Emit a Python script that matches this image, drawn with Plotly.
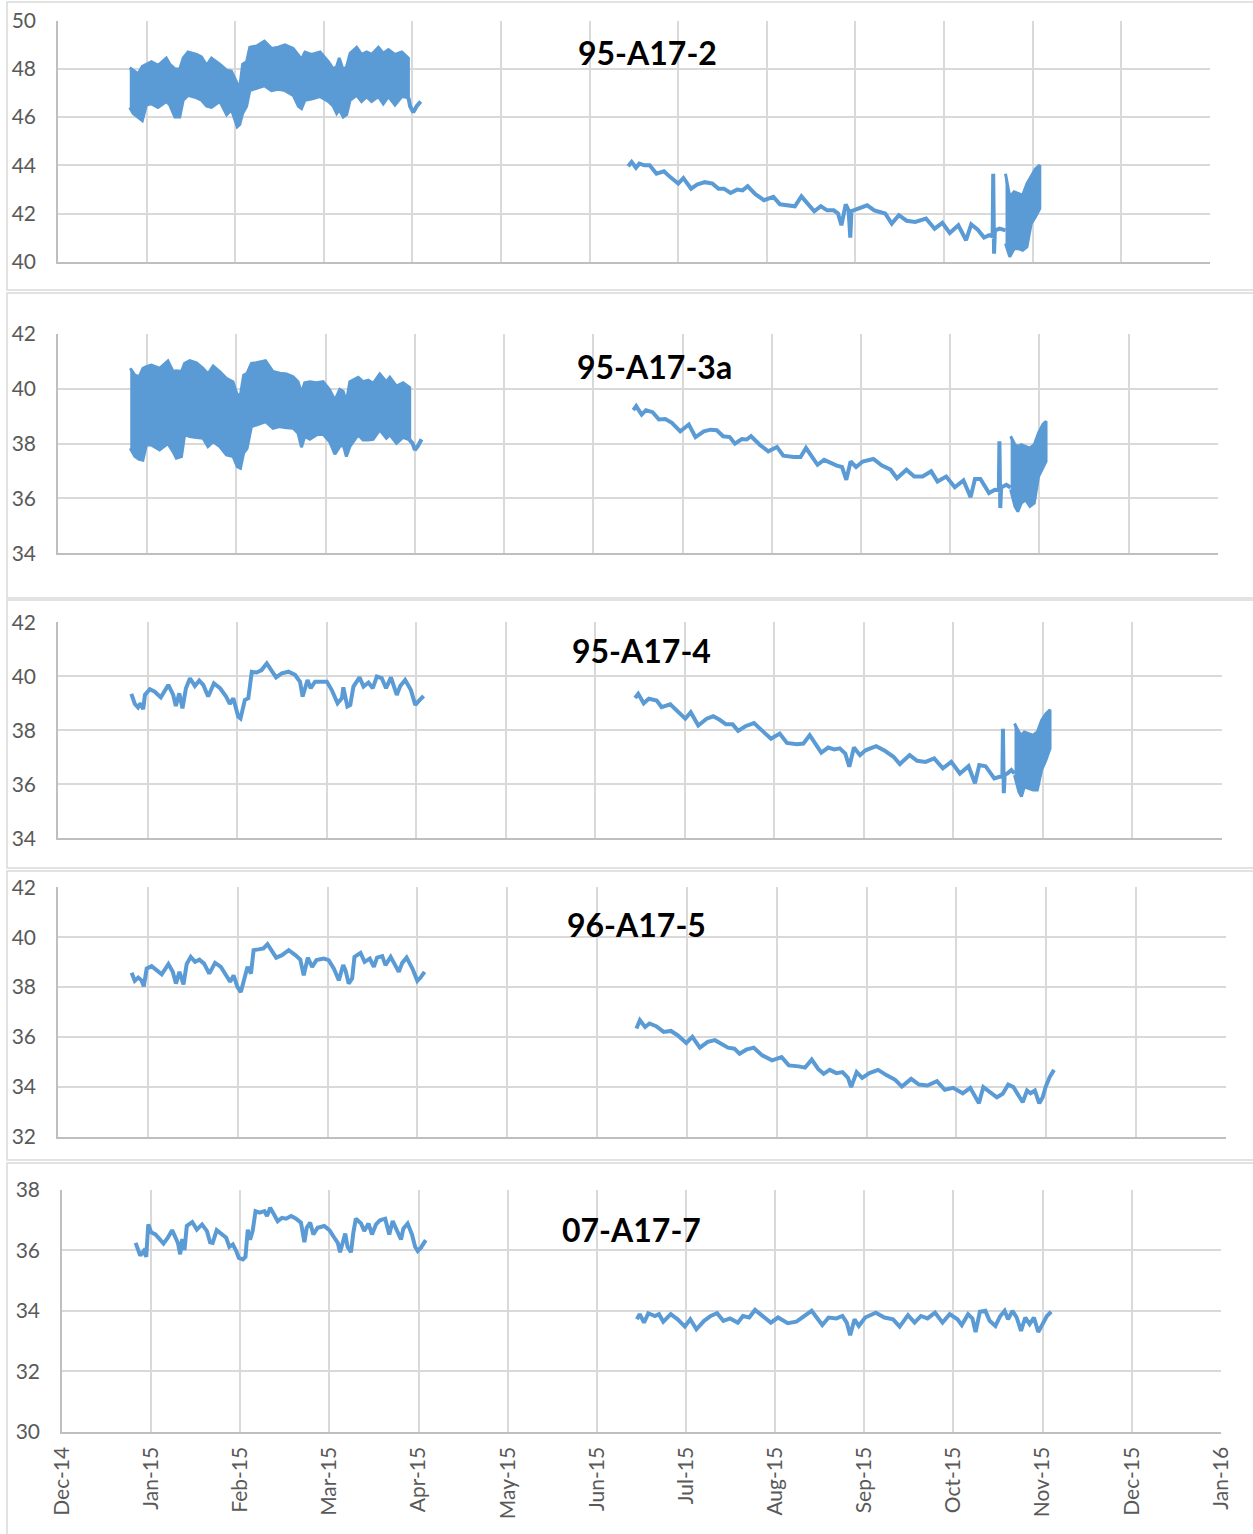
import pandas as pd
import plotly.graph_objects as go

BLUE = "#5B9BD5"
BASE = pd.Timestamp("2014-12-01")

# ---------------- tick labels (axis ticks every 31 days from 1-Dec-2014) ----------------
tick_days = [31 * k for k in range(14)]
tick_labels = ["Dec-14", "Jan-15", "Feb-15", "Mar-15", "Apr-15", "May-15", "Jun-15",
               "Jul-15", "Aug-15", "Sep-15", "Oct-15", "Nov-15", "Dec-15", "Jan-16"]

titles = ["95-A17-2", "95-A17-3a", "95-A17-4", "96-A17-5", "07-A17-7"]
y_ranges = [(40, 50), (34, 42), (34, 42), (32, 42), (30, 38)]

# ---------------- data (days since 1-Dec-2014) ----------------
# Panel 1: 95-A17-2
p1_win_days = [25.1, 26.3, 28.0, 29.5, 30.9, 32.7, 35.0, 37.9, 39.1, 40.9, 42.6, 43.8, 45.5, 48.5, 50.2,
               52.0, 53.7, 56.6, 59.0, 60.7, 62.7, 63.6, 64.6, 66.0, 67.1, 69.5, 72.2, 74.7, 77.1, 79.4,
               82.3, 84.1, 85.2, 86.4, 88.7, 91.7, 94.6, 96.3, 97.5, 98.4, 99.8, 101.0, 102.2, 104.5,
               106.2, 108.0, 109.7, 112.1, 113.8, 115.6, 117.9, 120.3, 122.6]
p1_win_hi = [48.05, 47.95, 47.8, 48.1, 48.2, 48.3, 48.15, 48.45, 48.2, 48.0, 48.0, 48.45, 48.7, 48.6, 48.5,
             48.15, 48.45, 48.2, 47.95, 47.9, 47.4, 47.25, 48.2, 48.3, 48.9, 48.95, 49.15, 48.85, 48.9, 49.0,
             48.85, 48.6, 48.4, 48.7, 48.6, 48.7, 48.3, 48.0, 48.1, 48.45, 47.95, 48.1, 48.65, 48.9,
             48.6, 48.7, 48.6, 48.9, 48.65, 48.8, 48.6, 48.7, 48.45]
p1_win_lo = [46.4, 46.15, 46.0, 45.85, 46.5, 46.55, 46.4, 46.65, 46.5, 46.0, 46.0, 46.7, 46.9, 46.8, 46.7,
             46.45, 46.4, 46.65, 46.1, 46.3, 45.6, 45.7, 46.15, 46.45, 47.1, 47.2, 47.3, 47.1, 47.15, 47.1,
             46.9, 46.45, 46.35, 46.7, 46.75, 46.85, 46.65, 46.45, 46.15, 46.3, 46.0, 46.1, 46.7, 46.9,
             46.65, 46.85, 46.65, 46.85, 46.55, 46.85, 46.5, 46.85, 46.8]
p1_tail_days = [122.6, 123.2, 124.3, 125.5, 126.9]
p1_tail_vals = [46.8, 46.45, 46.2, 46.45, 46.65]
p1_sum_days = [199.5, 200.7, 202.2, 203.4, 205.2, 207.0, 209.4, 212.0, 214.3, 217.0, 218.8, 221.5, 223.6,
               226.3, 229.0, 231.1, 233.0, 235.3, 237.6, 239.5, 241.3, 244.0, 247.0, 250.3, 252.6, 255.6,
               257.8, 260.1, 262.4, 264.6, 266.9, 269.1, 271.4, 272.9, 274.1, 275.6, 276.6, 277.2, 277.6,
               278.4, 280.4, 283.1, 285.6, 289.4, 291.7, 294.2, 296.9, 299.9, 303.7, 306.7, 309.4, 312.0,
               315.0, 317.7, 319.5, 321.8, 324.0, 325.8, 327.0, 327.2, 327.5, 327.8, 329.5, 331.5]
p1_sum_vals = [43.96, 44.14, 43.9, 44.07, 44.0, 44.0, 43.65, 43.75, 43.5, 43.24, 43.47, 43.03, 43.2,
               43.3, 43.24, 43.03, 43.03, 42.85, 42.99, 42.96, 43.13, 42.8, 42.55, 42.69, 42.38, 42.34,
               42.3, 42.71, 42.41, 42.09, 42.3, 42.13, 42.13, 42.0, 41.51, 42.38, 42.13, 41.0, 42.1,
               42.13, 42.2, 42.34, 42.13, 42.0, 41.58, 41.93, 41.7, 41.65, 41.79, 41.37, 41.61, 41.19,
               41.51, 40.89, 41.55, 41.33, 41.0, 41.1, 41.05, 43.65, 40.33, 41.3, 41.37, 41.3]
p1_end_days = [331.5, 333.0, 334.5, 336.0, 337.5, 339.0, 340.5, 342.0, 343.5]
p1_end_hi = [43.65, 42.69, 42.9, 42.82, 42.76, 43.24, 43.58, 43.86, 44.0]
p1_end_lo = [40.75, 40.2, 40.54, 40.54, 40.47, 40.61, 41.58, 41.86, 42.2]

# Panel 2: 95-A17-3a
p2_win_days = [25.1, 26.7, 28.2, 29.5, 30.7, 32.4, 35.3, 38.2, 40.0, 41.1, 42.9, 44.0, 45.8, 48.1, 50.4,
               52.1, 53.9, 56.2, 58.5, 60.8, 62.3, 63.4, 64.5, 65.7, 67.2, 68.9, 72.1, 74.7, 77.1, 79.4,
               81.7, 83.4, 84.6, 85.7, 87.5, 89.8, 92.1, 94.4, 96.2, 97.9, 99.1, 100.2, 101.4, 104.3,
               106.0, 107.8, 109.5, 111.8, 114.1, 115.3, 117.6, 119.9, 122.2]
p2_win_hi = [40.75, 40.5, 40.44, 40.75, 40.81, 40.87, 40.75, 41.02, 40.63, 40.66, 40.63, 40.93, 41.03, 40.95,
             40.75, 40.54, 40.83, 40.63, 40.38, 40.26, 39.78, 39.78, 40.5, 40.57, 40.93, 40.95, 41.03, 40.63,
             40.57, 40.54, 40.44, 40.26, 39.86, 40.22, 40.26, 40.22, 40.26, 39.96, 39.59, 39.98, 39.9,
             39.53, 40.26, 40.42, 40.26, 40.32, 40.2, 40.54, 40.26, 40.42, 40.1, 40.22, 40.05]
p2_win_lo = [37.83, 37.53, 37.43, 37.4, 37.95, 37.95, 37.77, 38.0, 37.7, 37.47, 37.53, 38.32, 38.26, 38.22,
             38.2, 37.89, 38.07, 37.89, 37.59, 37.53, 37.16, 37.1, 37.65, 37.83, 38.62, 38.68, 38.8, 38.56,
             38.62, 38.58, 38.56, 38.38, 37.87, 38.26, 38.16, 38.32, 38.34, 38.07, 37.62, 37.89, 37.95,
             37.53, 37.89, 38.32, 38.13, 38.13, 38.16, 38.5, 38.2, 38.32, 38.01, 38.23, 38.13]
p2_tail_days = [122.2, 123.2, 124.0, 125.1, 126.3]
p2_tail_vals = [38.13, 38.01, 37.77, 37.92, 38.16]
p2_sum_days = [199.9, 200.9, 202.8, 204.3, 206.6, 208.8, 211.0, 213.3, 216.2, 219.2, 221.5, 224.4, 226.7,
               228.9, 231.1, 233.4, 235.2, 237.6, 239.3, 240.8, 243.8, 246.8, 249.8, 252.0, 255.7, 258.0,
               259.9, 262.4, 263.9, 266.2, 268.4, 270.6, 272.4, 273.9, 275.4, 277.3, 279.6, 283.3, 286.3,
               289.3, 291.5, 294.8, 297.5, 300.4, 303.4, 305.6, 308.6, 311.6, 314.6, 317.1, 318.6, 320.5,
               323.5, 325.5, 326.9, 327.1, 327.4, 327.7, 329.5, 331.0]
p2_sum_vals = [39.22, 39.37, 39.06, 39.22, 39.15, 38.88, 38.9, 38.76, 38.45, 38.7, 38.24, 38.45, 38.51,
               38.49, 38.27, 38.24, 38.0, 38.17, 38.15, 38.27, 37.96, 37.72, 37.88, 37.56, 37.51, 37.51,
               37.84, 37.48, 37.23, 37.41, 37.29, 37.2, 37.15, 36.68, 37.35, 37.15, 37.35, 37.44, 37.2,
               37.05, 36.74, 37.05, 36.8, 36.8, 36.99, 36.62, 36.8, 36.41, 36.66, 36.05, 36.71, 36.71,
               36.2, 36.32, 36.3, 38.09, 35.65, 36.4, 36.5, 36.4]
p2_end_days = [331.0, 332.5, 333.5, 334.7, 336.2, 337.7, 339.2, 340.7, 342.2, 343.3]
p2_end_hi = [38.27, 37.96, 37.9, 37.96, 37.9, 37.84, 37.96, 38.39, 38.7, 38.82]
p2_end_lo = [36.32, 35.71, 35.52, 35.83, 35.95, 35.71, 35.83, 36.8, 37.11, 37.35]

# Panel 3: 95-A17-4
p3_win_days = [25.4, 26.6, 27.7, 28.6, 29.5, 30.1, 31.8, 33.5, 35.6, 38.2, 39.9, 40.8, 42.0, 43.1, 44.3,
               45.7, 47.4, 48.9, 50.3, 52.0, 54.0, 56.1, 58.2, 59.5, 60.7, 62.4, 63.2, 64.7, 65.9, 67.1,
               68.8, 70.5, 72.3, 74.0, 75.5, 77.5, 79.8, 82.1, 83.8, 84.7, 86.4, 87.5, 89.0, 91.3, 93.1,
               94.8, 96.8, 98.3, 98.8, 100.2, 101.2, 102.3, 104.4, 105.8, 107.5, 109.0, 110.4, 112.1,
               113.6, 115.3, 117.3, 118.5, 120.2, 122.2, 123.7, 125.2, 126.6]
p3_win_vals = [39.35, 38.98, 38.85, 39.0, 38.78, 39.31, 39.52, 39.43, 39.22, 39.68, 39.31, 38.9, 39.37, 38.81,
               39.56, 39.93, 39.64, 39.84, 39.68, 39.25, 39.74, 39.56, 39.25, 38.98, 39.19, 38.51, 38.44,
               39.12, 39.19, 40.17, 40.14, 40.23, 40.48, 40.23, 39.96, 40.11, 40.17, 40.05, 39.8, 39.25,
               39.86, 39.56, 39.8, 39.8, 39.8, 39.49, 39.0, 39.19, 39.59, 38.88, 38.94, 39.62, 39.96, 39.62,
               39.77, 39.56, 39.99, 39.93, 39.56, 39.96, 39.31, 39.64, 39.86, 39.49, 38.94, 39.12, 39.27]
p3_sum_days = [199.8, 200.9, 202.8, 204.6, 207.3, 209.0, 212.0, 214.2, 217.2, 219.1, 221.7, 224.6, 226.9,
               229.1, 231.3, 233.6, 235.5, 238.0, 241.0, 243.9, 246.9, 249.9, 252.4, 255.8, 258.1, 260.3,
               262.5, 264.3, 266.7, 268.8, 270.7, 272.6, 274.0, 275.6, 277.7, 279.6, 283.3, 286.3, 289.3,
               291.5, 294.9, 297.5, 300.4, 303.4, 306.4, 309.3, 312.3, 315.3, 317.5, 319.0, 321.2, 324.2,
               326.1, 327.0, 327.2, 327.5, 327.8, 328.7, 330.1, 331.2]
p3_sum_vals = [39.2, 39.35, 39.0, 39.17, 39.1, 38.86, 38.96, 38.74, 38.43, 38.67, 38.18, 38.43, 38.52,
               38.39, 38.22, 38.22, 37.98, 38.15, 38.27, 37.98, 37.69, 37.88, 37.53, 37.48, 37.51, 37.82,
               37.45, 37.17, 37.36, 37.29, 37.33, 37.14, 36.65, 37.36, 37.08, 37.26, 37.41, 37.24, 37.02,
               36.75, 37.08, 36.87, 36.83, 36.96, 36.59, 36.83, 36.4, 36.67, 36.04, 36.71, 36.67, 36.22,
               36.28, 36.3, 38.06, 35.67, 36.35, 36.4, 36.53, 36.4]
p3_end_days = [331.2, 332.7, 333.6, 334.6, 336.1, 337.6, 339.1, 340.6, 342.1, 343.5]
p3_end_hi = [38.25, 37.94, 37.82, 37.94, 37.88, 37.82, 37.94, 38.37, 38.61, 38.76]
p3_end_lo = [36.34, 35.73, 35.55, 35.91, 35.85, 35.79, 35.79, 36.53, 36.9, 37.33]

# Panel 4: 96-A17-5
p4_win_days = [25.4, 26.5, 27.7, 28.8, 29.6, 30.6, 32.3, 34.0, 35.8, 38.1, 39.6, 40.7, 41.9, 43.3, 44.4,
               45.8, 47.3, 48.8, 50.4, 52.2, 54.2, 56.2, 58.2, 59.4, 60.6, 61.9, 63.1, 64.6, 65.4, 66.6,
               67.5, 69.2, 70.9, 72.3, 73.8, 75.3, 77.3, 79.6, 81.9, 83.6, 84.8, 86.2, 87.7, 89.2, 91.7,
               93.4, 95.2, 96.9, 98.4, 99.2, 100.3, 101.5, 102.3, 104.4, 105.8, 107.6, 109.0, 110.1, 111.9,
               113.0, 114.8, 116.1, 117.6, 118.8, 120.3, 122.3, 124.0, 125.1, 126.5]
p4_win_vals = [38.57, 38.25, 38.38, 38.27, 38.03, 38.74, 38.84, 38.68, 38.51, 38.92, 38.61, 38.14, 38.61,
               38.11, 38.92, 39.21, 39.01, 39.1, 38.94, 38.54, 38.97, 38.81, 38.47, 38.21, 38.47, 38.01,
               37.8, 38.41, 38.81, 38.54, 39.48, 39.51, 39.55, 39.72, 39.48, 39.18, 39.28, 39.48, 39.28,
               39.1, 38.47, 39.18, 38.81, 39.08, 39.14, 39.08, 38.74, 38.27, 38.88, 38.68, 38.14, 38.34,
               39.21, 39.37, 39.01, 39.14, 38.81, 39.18, 39.24, 38.88, 39.21, 38.94, 38.61, 38.97, 39.18,
               38.74, 38.25, 38.38, 38.61]
p4_sum_days = [199.6, 200.8, 202.6, 204.1, 206.4, 209.0, 211.5, 213.8, 216.8, 218.9, 221.5, 224.2, 226.7,
               228.9, 231.2, 233.4, 235.2, 237.5, 240.1, 243.0, 246.4, 249.7, 252.2, 255.6, 257.8, 260.1,
               262.3, 264.2, 266.3, 268.6, 270.7, 272.6, 273.7, 275.6, 277.5, 280.0, 283.0, 286.0, 288.9,
               291.2, 294.4, 297.1, 300.0, 303.3, 306.0, 308.9, 312.2, 314.8, 317.8, 319.3, 321.5, 324.0,
               326.0, 327.9, 329.7, 331.1, 332.9, 334.4, 335.6, 337.1, 338.6, 339.8, 340.8, 342.2, 343.7]
p4_sum_vals = [36.34, 36.67, 36.4, 36.54, 36.43, 36.2, 36.24, 36.07, 35.76, 36.0, 35.57, 35.8, 35.87,
               35.73, 35.57, 35.53, 35.33, 35.49, 35.57, 35.26, 35.06, 35.19, 34.86, 34.82, 34.77, 35.09,
               34.72, 34.52, 34.68, 34.55, 34.59, 34.36, 33.99, 34.59, 34.36, 34.55, 34.68, 34.46, 34.28,
               34.01, 34.32, 34.09, 34.05, 34.23, 33.88, 33.96, 33.74, 33.96, 33.34, 33.99, 33.79, 33.58,
               33.72, 34.09, 33.99, 33.72, 33.38, 33.85, 33.74, 33.85, 33.34, 33.58, 33.99, 34.39, 34.68]

# Panel 5: 07-A17-7
p5_win_days = [25.6, 26.4, 27.2, 28.4, 29.3, 30.0, 31.0, 32.5, 33.9, 35.3, 36.8, 38.3, 39.5, 40.3, 41.1,
               41.8, 42.6, 43.4, 45.3, 46.9, 48.7, 50.4, 51.5, 52.4, 53.8, 55.3, 57.1, 58.2, 59.4, 60.6,
               61.5, 62.9, 63.8, 64.6, 65.4, 66.3, 67.3, 68.7, 70.4, 71.3, 72.4, 73.5, 75.0, 76.5, 77.9,
               79.7, 81.4, 83.1, 84.3, 85.1, 86.3, 87.4, 88.9, 91.2, 93.0, 94.7, 95.9, 96.7, 97.6, 98.5,
               99.3, 100.5, 101.3, 102.2, 104.0, 105.1, 106.6, 107.8, 109.2, 110.6, 112.4, 113.8, 115.0,
               116.7, 117.9, 118.7, 120.2, 121.7, 122.8, 123.7, 124.8, 126.5]
p5_win_vals = [36.25, 36.05, 35.83, 35.98, 35.79, 36.86, 36.6, 36.53, 36.36, 36.23, 36.42, 36.67, 36.42,
               36.25, 35.87, 36.38, 36.01, 36.81, 36.94, 36.69, 36.86, 36.64, 36.27, 36.25, 36.67, 36.56,
               36.42, 36.12, 36.2, 35.98, 35.75, 35.7, 35.79, 36.69, 36.36, 36.64, 37.3, 37.25, 37.3,
               37.14, 37.41, 37.23, 36.97, 37.08, 37.05, 37.14, 37.05, 36.92, 36.27, 36.75, 36.92, 36.53,
               36.75, 36.81, 36.67, 36.42, 36.25, 35.94, 36.2, 36.56, 36.12, 35.94, 36.58, 37.05, 36.89,
               36.64, 36.89, 36.53, 36.86, 37.0, 37.05, 36.53, 36.97, 36.56, 36.36, 36.72, 36.89, 36.53,
               36.12, 35.98, 36.09, 36.34]
p5_sum_days = [199.9, 200.9, 202.4, 203.9, 206.2, 207.6, 209.1, 211.7, 214.1, 216.6, 218.5, 220.6, 223.3,
               225.6, 227.8, 230.0, 232.3, 235.0, 236.8, 239.0, 241.0, 243.5, 246.5, 249.0, 252.4, 255.4,
               257.7, 260.7, 262.9, 264.4, 266.6, 269.3, 271.4, 272.9, 274.1, 275.6, 277.1, 279.3, 283.0,
               286.0, 289.0, 291.3, 294.2, 296.5, 298.7, 301.0, 303.6, 306.2, 308.7, 311.4, 312.9, 315.1,
               316.6, 317.7, 319.2, 321.1, 322.6, 324.6, 326.3, 327.8, 329.0, 330.5, 332.0, 333.5, 335.0,
               336.5, 338.0, 339.5, 341.0, 342.5, 344.0]
p5_sum_vals = [33.72, 33.89, 33.61, 33.92, 33.83, 33.89, 33.64, 33.89, 33.72, 33.48, 33.72, 33.39, 33.67,
               33.83, 33.92, 33.67, 33.75, 33.61, 33.83, 33.78, 34.03, 33.83, 33.61, 33.78, 33.59, 33.64,
               33.81, 34.0, 33.72, 33.53, 33.78, 33.75, 33.83, 33.61, 33.19, 33.72, 33.5, 33.78, 33.94,
               33.78, 33.72, 33.48, 33.86, 33.61, 33.83, 33.75, 33.94, 33.61, 33.89, 33.72, 33.53, 33.89,
               33.75, 33.3, 33.97, 34.0, 33.67, 33.5, 33.83, 34.0, 33.72, 34.0, 33.78, 33.34, 33.78,
               33.56, 33.78, 33.3, 33.56, 33.83, 33.97]

# ---------------- layout geometry (pixels in the 1253 x 1534 page) ----------------
W, H = 1253, 1534
plot_boxes = [  # left, top, right, bottom of each plot area
    (58, 20.7, 1210, 261.7),
    (58, 334.0, 1218, 553.3),
    (58, 622.3, 1222, 838.3),
    (58, 887.3, 1226, 1136.7),
    (62, 1190.0, 1221, 1431.7),
]
frames = [(7, 2, 1262, 290), (7, 293, 1262, 598), (7, 600, 1262, 868),
          (7, 871, 1262, 1160), (7, 1163, 1262, 1545)]
title_pos = [(647, 52), (654, 366), (641, 650), (636, 924), (631, 1229)]


def dates(days):
    return [BASE + pd.Timedelta(days=float(d)) for d in days]


def px(x):
    return x / W


def py(y):
    return 1 - y / H


fig = go.Figure()


def add_line(i, days, vals):
    fig.add_trace(go.Scatter(x=dates(days), y=vals, mode="lines",
                             line=dict(color=BLUE, width=4), xaxis=f"x{i}", yaxis=f"y{i}",
                             showlegend=False, hoverinfo="skip"))


def add_band(i, days, hi, lo):
    fig.add_trace(go.Scatter(x=dates(days) + dates(days[::-1]), y=list(hi) + list(lo[::-1]),
                             mode="lines", fill="toself", fillcolor=BLUE,
                             line=dict(color=BLUE, width=3), xaxis=f"x{i}", yaxis=f"y{i}",
                             showlegend=False, hoverinfo="skip"))


add_band(1, p1_win_days, p1_win_hi, p1_win_lo)
add_line(1, p1_tail_days, p1_tail_vals)
add_line(1, p1_sum_days, p1_sum_vals)
add_band(1, p1_end_days, p1_end_hi, p1_end_lo)

add_band(2, p2_win_days, p2_win_hi, p2_win_lo)
add_line(2, p2_tail_days, p2_tail_vals)
add_line(2, p2_sum_days, p2_sum_vals)
add_band(2, p2_end_days, p2_end_hi, p2_end_lo)

add_line(3, p3_win_days, p3_win_vals)
add_line(3, p3_sum_days, p3_sum_vals)
add_band(3, p3_end_days, p3_end_hi, p3_end_lo)

add_line(4, p4_win_days, p4_win_vals)
add_line(4, p4_sum_days, p4_sum_vals)

add_line(5, p5_win_days, p5_win_vals)
add_line(5, p5_sum_days, p5_sum_vals)

FONT = "Lato"
tick_dates = dates(tick_days)
x_range = [BASE, BASE + pd.Timedelta(days=403.05)]

layout = dict(width=W, height=H, margin=dict(l=0, r=0, t=0, b=0, autoexpand=False),
              paper_bgcolor="white", plot_bgcolor="white",
              font=dict(family=FONT, color="#595959"), shapes=[], annotations=[])

for k, (box, yr) in enumerate(zip(plot_boxes, y_ranges), start=1):
    l, t, r, b = box
    last = (k == 5)
    layout[f"xaxis{k}"] = dict(
        domain=[px(l), px(r)], anchor=f"y{k}", type="date", range=x_range, automargin=False,
        tickmode="array", tickvals=tick_dates, ticktext=tick_labels,
        showticklabels=last, tickangle=-90, ticks="",
        tickfont=dict(family=FONT, size=21, color="#595959"),
        ticklabelstandoff=5,
        showgrid=True, gridcolor="#D9D9D9", gridwidth=1.5,
        showline=True, linecolor="#BFBFBF", linewidth=1.5, zeroline=False,
        fixedrange=True)
    layout[f"yaxis{k}"] = dict(
        domain=[py(b), py(t)], anchor=f"x{k}", range=list(yr), dtick=2, tick0=0, automargin=False,
        ticks="", tickfont=dict(family=FONT, size=21, color="#595959"),
        ticklabelstandoff=16,
        showgrid=True, gridcolor="#D9D9D9", gridwidth=1.5,
        showline=True, linecolor="#BFBFBF", linewidth=1.5, zeroline=False,
        fixedrange=True)

for (x0, y0, x1, y1) in frames:
    layout["shapes"].append(dict(type="rect", xref="paper", yref="paper",
                                 x0=px(x0), x1=px(x1), y0=py(y1), y1=py(y0),
                                 line=dict(color="#D9D9D9", width=1.5), layer="below"))

for (tx, ty), text in zip(title_pos, titles):
    layout["annotations"].append(dict(text=f"<b>{text}</b>", xref="paper", yref="paper",
                                      x=px(tx), y=py(ty), xanchor="center", yanchor="middle",
                                      showarrow=False,
                                      font=dict(family=FONT, size=32, color="black")))

fig.update_layout(**layout)
fig.write_html("out.html", config={"displayModeBar": False},
               post_script="document.body.style.margin='0px';document.body.style.overflow='hidden';")
